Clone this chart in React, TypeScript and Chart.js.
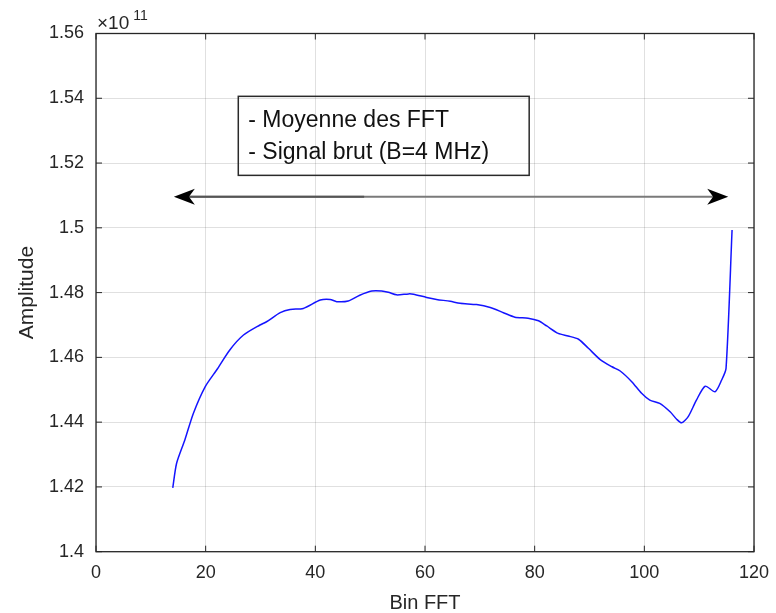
import React, { useEffect, useRef } from "react";
import { Chart, registerables } from "chart.js";

Chart.register(...registerables);

// ---- Data (amplitude in units of 1e11) ----
const BIN: number[] = [
  14, 14.7, 16.2, 17.75, 19.9, 22, 24.4, 26.9, 29.9, 31.1, 33.6, 35.4, 37.8, 40.9, 42.7, 43.9,
  46, 48.1, 50.3, 52.1, 53.3, 54.8, 57, 57.9, 60.3, 62.1, 64.6, 66.4, 69.4, 71.9, 74.3, 76.4,
  78.8, 80.7, 82.2, 84.3, 86.1, 88, 89.8, 91.9, 94.1, 95.6, 97.7, 99.5, 101, 102.8, 104.7,
  105.9, 106.8, 108, 109.5, 111.1, 112.9, 114.1, 114.9, 116,
];
const AMPLITUDE: number[] = [
  1.4197, 1.4273, 1.4345, 1.4427, 1.4509, 1.4561, 1.4623, 1.4669, 1.47, 1.471, 1.4738, 1.4748,
  1.4751, 1.4777, 1.4779, 1.4772, 1.4774, 1.4792, 1.4805, 1.4805, 1.4801, 1.4793, 1.4796,
  1.4795, 1.4785, 1.4779, 1.4773, 1.4767, 1.4763, 1.4754, 1.4738, 1.4724, 1.4721, 1.4713,
  1.4697, 1.4674, 1.4666, 1.4656, 1.4628, 1.4594, 1.4571, 1.4558, 1.4525, 1.4489, 1.4468,
  1.4458, 1.4432, 1.4409, 1.4398, 1.4417, 1.4468, 1.4511, 1.4494, 1.453, 1.4566, 1.4993,
];
const X_TITLE = "Bin FFT";
const Y_TITLE = "Amplitude";
const EXPONENT = "11";
const NOTE_LINES: string[] = ["- Moyenne des FFT", "- Signal brut (B=4 MHz)"];

// annotation anchors (data coordinates)
const NOTE_BOX = { x0: 25.95, x1: 79.0, y0: 1.5406, y1: 1.5162 };
const ARROW = { x0: 14.2, x1: 115.3, y: 1.5096, darkEnd: 48.9 };

const FONT = '"Liberation Sans", Arial, Helvetica, sans-serif';
const INK = "#262626";

const decor = {
  id: "matlabDecor",
  afterDraw(chart: any) {
    const { ctx, chartArea: a, scales } = chart;
    const xs = scales.x;
    const ys = scales.y;
    ctx.save();

    // box
    ctx.strokeStyle = INK;
    ctx.lineWidth = 1.3;
    ctx.strokeRect(a.left, a.top, a.right - a.left, a.bottom - a.top);

    // inward ticks
    const TL = 6;
    ctx.lineWidth = 1;
    ctx.beginPath();
    for (const t of xs.ticks) {
      const p = xs.getPixelForValue(t.value);
      ctx.moveTo(p, a.bottom);
      ctx.lineTo(p, a.bottom - TL);
      ctx.moveTo(p, a.top);
      ctx.lineTo(p, a.top + TL);
    }
    for (const t of ys.ticks) {
      const p = ys.getPixelForValue(t.value);
      ctx.moveTo(a.left, p);
      ctx.lineTo(a.left + TL, p);
      ctx.moveTo(a.right, p);
      ctx.lineTo(a.right - TL, p);
    }
    ctx.stroke();

    // exponent label
    ctx.fillStyle = INK;
    ctx.textBaseline = "alphabetic";
    ctx.textAlign = "left";
    ctx.font = `19px ${FONT}`;
    const base = "\u00d710";
    ctx.fillText(base, a.left + 1, 29);
    const w = ctx.measureText(base).width;
    ctx.font = `14px ${FONT}`;
    ctx.fillText(EXPONENT, a.left + 1 + w + 4, 19.5);

    // note box
    const bx0 = xs.getPixelForValue(NOTE_BOX.x0);
    const bx1 = xs.getPixelForValue(NOTE_BOX.x1);
    const by0 = ys.getPixelForValue(NOTE_BOX.y0);
    const by1 = ys.getPixelForValue(NOTE_BOX.y1);
    ctx.strokeStyle = "#2a2a2a";
    ctx.lineWidth = 1.5;
    ctx.strokeRect(bx0, by0, bx1 - bx0, by1 - by0);
    ctx.fillStyle = "#111";
    ctx.font = `23px ${FONT}`;
    ctx.textBaseline = "middle";
    const lh = (by1 - by0) / (NOTE_LINES.length + 0.5);
    NOTE_LINES.forEach((s, i) => {
      ctx.fillText(s, bx0 + 10, by0 + lh * (i + 0.75) + 1);
    });

    // arrow
    const ax0 = xs.getPixelForValue(ARROW.x0);
    const ax1 = xs.getPixelForValue(ARROW.x1);
    const axd = xs.getPixelForValue(ARROW.darkEnd);
    const ay = ys.getPixelForValue(ARROW.y);
    const L = 21;
    const H = 8;
    ctx.lineWidth = 2.2;
    ctx.strokeStyle = "#7a7a7a";
    ctx.beginPath();
    ctx.moveTo(ax0 + 10, ay);
    ctx.lineTo(ax1 - 10, ay);
    ctx.stroke();
    ctx.strokeStyle = "#555";
    ctx.beginPath();
    ctx.moveTo(ax0 + 10, ay);
    ctx.lineTo(axd, ay);
    ctx.stroke();
    ctx.fillStyle = "#000";
    const head = (tip: number, dir: number) => {
      ctx.beginPath();
      ctx.moveTo(tip, ay);
      ctx.lineTo(tip + dir * L, ay - H);
      ctx.lineTo(tip + dir * L * 0.72, ay);
      ctx.lineTo(tip + dir * L, ay + H);
      ctx.closePath();
      ctx.fill();
    };
    head(ax0, 1);
    head(ax1, -1);

    ctx.restore();
  },
};

export default function App() {
  const ref = useRef<HTMLCanvasElement | null>(null);
  useEffect(() => {
    if (!ref.current) return;
    const chart = new Chart(ref.current, {
      type: "line",
      data: {
        datasets: [
          {
            data: BIN.map((x, i) => ({ x, y: AMPLITUDE[i] })),
            borderColor: "rgb(20,20,255)",
            borderWidth: 1.5,
            pointRadius: 0,
            tension: 0.25,
            fill: false,
          },
        ],
      },
      options: {
        animation: false,
        responsive: false,
        events: [],
        layout: { padding: { left: 0, right: 22, top: 33.5, bottom: 0 } },
        plugins: { legend: { display: false }, tooltip: { enabled: false } },
        scales: {
          x: {
            type: "linear",
            min: 0,
            max: 120,
            afterFit: (s: any) => {
              s.height = 61.3;
              s.paddingLeft = 0;
              s.paddingRight = 0;
            },
            ticks: {
              stepSize: 20,
              color: INK,
              padding: 11,
              font: { family: FONT, size: 18 },
            },
            grid: { color: "rgba(0,0,0,0.12)", drawTicks: false },
            border: { display: false },
            title: {
              display: true,
              text: X_TITLE,
              color: INK,
              font: { family: FONT, size: 20, lineHeight: 1 },
              padding: { top: 1, bottom: 0 },
            },
          },
          y: {
            type: "linear",
            min: 1.4,
            max: 1.56,
            afterFit: (s: any) => {
              s.width = 96;
              s.paddingTop = 0;
              s.paddingBottom = 0;
            },
            ticks: {
              stepSize: 0.02,
              color: INK,
              padding: 12,
              font: { family: FONT, size: 18 },
              callback: (v: any) => Number(Number(v).toFixed(2)).toString(),
            },
            grid: { color: "rgba(0,0,0,0.12)", drawTicks: false },
            border: { display: false },
            title: {
              display: true,
              text: Y_TITLE,
              color: INK,
              font: { family: FONT, size: 21, lineHeight: 1 },
              padding: { top: 16.5, bottom: 0 },
            },
          },
        },
      },
      plugins: [decor],
    });
    return () => chart.destroy();
  }, []);
  return (
    <div style={{ position: "fixed", left: 0, top: 0, width: 776, height: 613, background: "#fff" }}>
      <canvas ref={ref} width={776} height={613} />
    </div>
  );
}
